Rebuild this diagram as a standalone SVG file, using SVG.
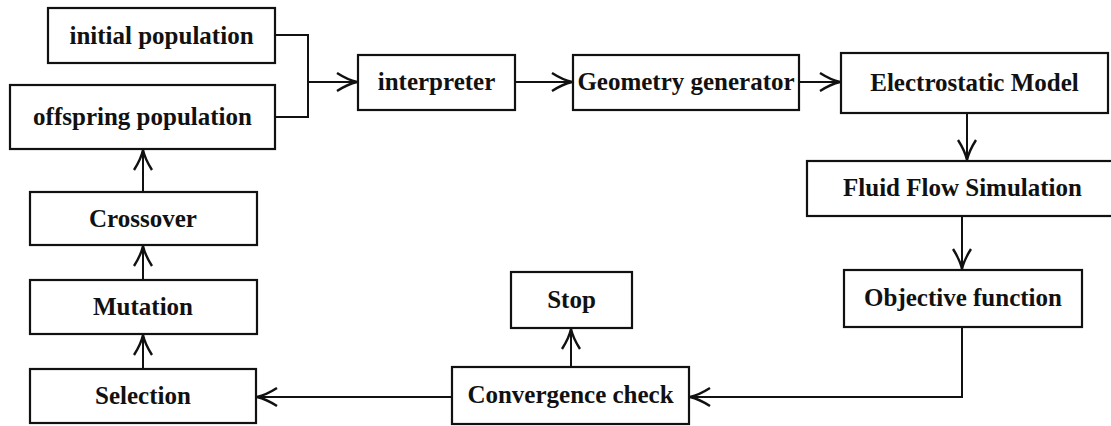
<svg xmlns="http://www.w3.org/2000/svg" width="1111" height="426" viewBox="0 0 1111 426">
<style>
.box{fill:#fff;stroke:#111;stroke-width:2.2}
.lbl{font-family:"Liberation Serif","Times New Roman",serif;font-weight:bold;font-size:25px;fill:#111;text-anchor:middle}
.conn{fill:none;stroke:#111;stroke-width:2}
</style>
<defs>
<marker id="arr" viewBox="-22 -10 24 20" refX="0" refY="0" markerWidth="24" markerHeight="20" markerUnits="userSpaceOnUse" orient="auto">
<path d="M-20,-9 Q-9,-2 0,0 Q-9,2 -20,9" fill="none" stroke="#111" stroke-width="2.4" stroke-linejoin="miter"/>
</marker>
</defs>
<rect width="1111" height="426" fill="#fff"/>
<g id="connectors">
<path class="conn" d="M275,35 H308 V117 H275"/>
<path class="conn" d="M308,82 H357" marker-end="url(#arr)"/>
<path class="conn" d="M515,82 H572" marker-end="url(#arr)"/>
<path class="conn" d="M799,82 H840" marker-end="url(#arr)"/>
<path class="conn" d="M967,113 V160" marker-end="url(#arr)"/>
<path class="conn" d="M962,216 V269" marker-end="url(#arr)"/>
<path class="conn" d="M962,327 V397 H690" marker-end="url(#arr)"/>
<path class="conn" d="M452,397 H257" marker-end="url(#arr)"/>
<path class="conn" d="M571,367 V329" marker-end="url(#arr)"/>
<path class="conn" d="M143,369 V335" marker-end="url(#arr)"/>
<path class="conn" d="M143,280 V246" marker-end="url(#arr)"/>
<path class="conn" d="M143,192 V150" marker-end="url(#arr)"/>
</g>
<g id="initial"><rect class="box" x="48" y="8" width="227" height="55"/><text class="lbl" x="161.5" y="44">initial population</text></g>
<g id="offspring"><rect class="box" x="10" y="85" width="265" height="64"/><text class="lbl" x="142.5" y="125">offspring population</text></g>
<g id="interpreter"><rect class="box" x="358" y="55" width="157" height="55"/><text class="lbl" x="436.5" y="90">interpreter</text></g>
<g id="geometry"><rect class="box" x="573" y="55" width="226" height="55"/><text class="lbl" x="686" y="90">Geometry generator</text></g>
<g id="electrostatic"><rect class="box" x="841" y="53" width="267" height="60"/><text class="lbl" x="974.5" y="91">Electrostatic Model</text></g>
<g id="fluid"><rect class="box" x="807" y="161" width="310" height="55"/><text class="lbl" x="962.5" y="196">Fluid Flow Simulation</text></g>
<g id="objective"><rect class="box" x="844" y="270" width="238" height="57"/><text class="lbl" x="963" y="306">Objective function</text></g>
<g id="stop"><rect class="box" x="511" y="272" width="121" height="56"/><text class="lbl" x="571.5" y="308">Stop</text></g>
<g id="convergence"><rect class="box" x="452" y="367" width="237" height="57"/><text class="lbl" x="570.5" y="403">Convergence check</text></g>
<g id="selection"><rect class="box" x="30" y="369" width="226" height="54"/><text class="lbl" x="143" y="404">Selection</text></g>
<g id="mutation"><rect class="box" x="30" y="280" width="227" height="54"/><text class="lbl" x="143" y="315">Mutation</text></g>
<g id="crossover"><rect class="box" x="30" y="192" width="227" height="53"/><text class="lbl" x="143" y="227">Crossover</text></g>
</svg>
